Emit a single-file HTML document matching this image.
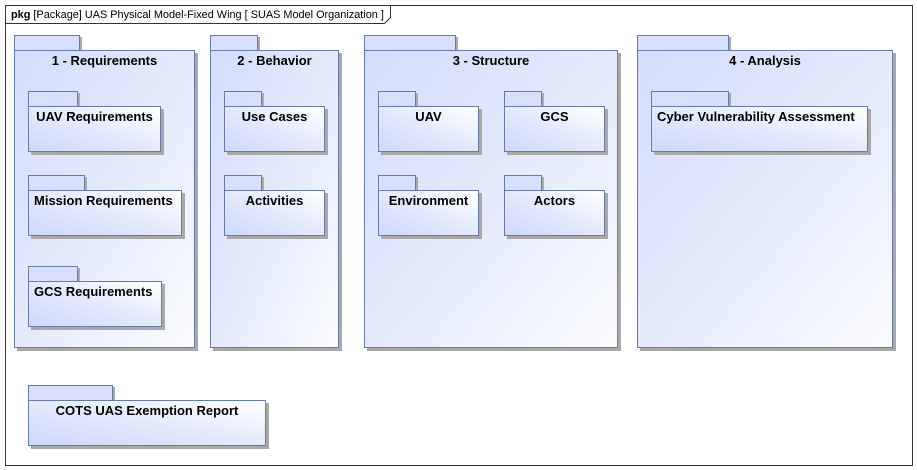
<!DOCTYPE html>
<html><head><meta charset="utf-8"><style>
html,body{margin:0;padding:0;background:#fff;width:917px;height:470px;overflow:hidden;position:relative;font-family:"Liberation Sans",Arial,sans-serif}
.a{position:absolute;box-sizing:border-box}
.frame{left:5px;top:5px;width:908px;height:461px;border:1px solid #333}
.t{border:1px solid #6a7aa6;background:#d6dffb;box-shadow:2px 2px 0 #a9a9a9}
.b{border:1px solid #6a7aa6;background:linear-gradient(to top right,#cdd8fa 0%,#e4eafd 50%,#ffffff 100%);box-shadow:3px 3px 0 #a9a9a9;font-weight:bold;font-size:13px;color:#000;text-align:center;padding-top:2px}
.big{background:linear-gradient(to bottom right,#d3ddfb 0%,#e6ecfd 55%,#fbfcff 100%)}
.l{text-align:left;padding-left:5px}
</style></head><body>
<div class="a frame"></div>
<svg class="a" style="left:0;top:0" width="917" height="30">
<path d="M5.5 23.5 H384.5 L390.5 17.5 V5.5" fill="none" stroke="#333" stroke-width="1"/>
<text x="11" y="18" font-family="Liberation Sans, Arial, sans-serif" font-size="10.9"><tspan font-weight="bold">pkg</tspan> [Package] UAS Physical Model-Fixed Wing [ SUAS Model Organization ]</text>
</svg>

<div class="a t" style="left:14px;top:35px;width:66px;height:16px"></div>
<div class="a b big" style="left:14px;top:50px;width:181px;height:298px">1 - Requirements</div>
<div class="a t" style="left:210px;top:35px;width:48px;height:16px"></div>
<div class="a b big" style="left:210px;top:50px;width:129px;height:298px">2 - Behavior</div>
<div class="a t" style="left:364px;top:35px;width:92px;height:16px"></div>
<div class="a b big" style="left:364px;top:50px;width:254px;height:298px">3 - Structure</div>
<div class="a t" style="left:637px;top:35px;width:92px;height:16px"></div>
<div class="a b big" style="left:637px;top:50px;width:256px;height:298px">4 - Analysis</div>

<div class="a t" style="left:28px;top:91px;width:50px;height:16px"></div>
<div class="a b" style="left:28px;top:106px;width:133px;height:46px">UAV Requirements</div>
<div class="a t" style="left:28px;top:175px;width:57px;height:16px"></div>
<div class="a b l" style="left:28px;top:190px;width:154px;height:46px">Mission Requirements</div>
<div class="a t" style="left:28px;top:266px;width:50px;height:16px"></div>
<div class="a b l" style="left:28px;top:281px;width:134px;height:46px">GCS Requirements</div>

<div class="a t" style="left:224px;top:91px;width:38px;height:16px"></div>
<div class="a b" style="left:224px;top:106px;width:101px;height:46px">Use Cases</div>
<div class="a t" style="left:224px;top:175px;width:38px;height:16px"></div>
<div class="a b" style="left:224px;top:190px;width:101px;height:46px">Activities</div>

<div class="a t" style="left:378px;top:91px;width:38px;height:16px"></div>
<div class="a b" style="left:378px;top:106px;width:101px;height:46px">UAV</div>
<div class="a t" style="left:504px;top:91px;width:38px;height:16px"></div>
<div class="a b" style="left:504px;top:106px;width:101px;height:46px">GCS</div>
<div class="a t" style="left:378px;top:175px;width:38px;height:16px"></div>
<div class="a b" style="left:378px;top:190px;width:101px;height:46px">Environment</div>
<div class="a t" style="left:504px;top:175px;width:38px;height:16px"></div>
<div class="a b" style="left:504px;top:190px;width:101px;height:46px">Actors</div>

<div class="a t" style="left:651px;top:91px;width:78px;height:16px"></div>
<div class="a b l" style="left:651px;top:106px;width:217px;height:46px">Cyber Vulnerability Assessment</div>

<div class="a t" style="left:28px;top:385px;width:85px;height:16px"></div>
<div class="a b" style="left:28px;top:400px;width:238px;height:46px">COTS UAS Exemption Report</div>
</body></html>
